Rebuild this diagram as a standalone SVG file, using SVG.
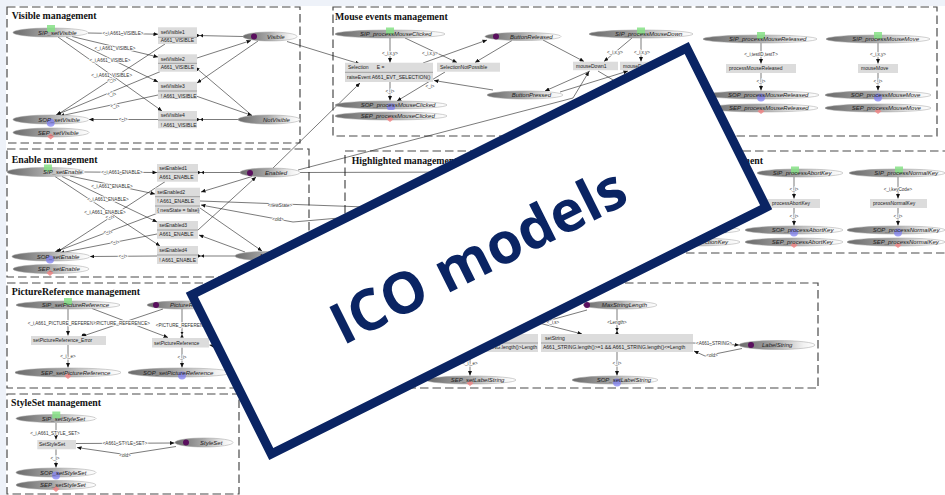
<svg xmlns="http://www.w3.org/2000/svg" width="945" height="495" viewBox="0 0 945 495">
<defs>
  <linearGradient id="pg" x1="0" y1="0" x2="1" y2="0">
    <stop offset="0" stop-color="#6a6a6a"/>
    <stop offset="0.45" stop-color="#a4a4a4"/>
    <stop offset="0.85" stop-color="#f2f2f2"/>
    <stop offset="1" stop-color="#ffffff"/>
  </linearGradient>
  <marker id="ah" markerWidth="5" markerHeight="4" refX="4.5" refY="2" orient="auto" markerUnits="userSpaceOnUse">
    <path d="M0,0 L4.5,2 L0,4 Z" fill="#111"/>
  </marker>
  <marker id="bt" markerWidth="6" markerHeight="4" refX="6" refY="2" orient="auto" markerUnits="userSpaceOnUse">
    <path d="M0,0.2 L3,2 L0,3.8 Z M6,0.2 L3,2 L6,3.8 Z" fill="#111"/>
  </marker>
  <style>
    .bx{fill:none;stroke:#4a4a4a;stroke-width:1.2;stroke-dasharray:8.5 4}
    .ti{font-family:"Liberation Serif","Times New Roman",serif;font-weight:bold;font-size:9.8px;fill:#111}
    .pl{fill:url(#pg);stroke:#a0a0a0;stroke-width:.5}
    .pn{font-family:"Liberation Sans",Arial,sans-serif;font-style:italic;font-size:6px;fill:#222}
    .tk{fill:#5a0f5e}
    .tr{fill:#dcdcdc}
    .sp{stroke:#777;stroke-width:.6}
    .tt{font-family:"Liberation Sans",Arial,sans-serif;font-size:5px;fill:#222}
    .lb{font-family:"Liberation Sans",Arial,sans-serif;font-size:4.6px;fill:#333;text-anchor:middle;stroke:#fff;stroke-width:1.6;paint-order:stroke;stroke-linejoin:round}
    .ar{fill:none;stroke:#222;stroke-width:.6;marker-end:url(#ah)}
    .bw{fill:none;stroke:#222;stroke-width:.6;marker-end:url(#bt)}
    .ln{fill:none;stroke:#222;stroke-width:.6}
    .gs{fill:#86e086;opacity:.85}
    .bs{fill:#7f7ff0;opacity:.75}
    .rs{fill:#f08484;opacity:.85}
  </style>
</defs>

<!-- page -->
<rect width="945" height="495" fill="#eef2f9"/>
<rect x="6" y="6" width="939" height="489" fill="#ffffff"/>

<!-- management frames -->
<g id="frames">
  <rect class="bx" x="7" y="7" width="293" height="136"/>
  <text class="ti" x="11.7" y="19">Visible management</text>
  <rect class="bx" x="333" y="7" width="604" height="129"/>
  <text class="ti" x="335" y="20">Mouse events management</text>
  <rect class="bx" x="7" y="149" width="302" height="128"/>
  <text class="ti" x="11.7" y="162.5">Enable management</text>
  <rect class="bx" x="345" y="151" width="300" height="100"/>
  <text class="ti" x="351.7" y="164">Highlighted management</text>
  <rect class="bx" x="655" y="151" width="300" height="102"/>
  <text class="ti" x="763" y="163.5" text-anchor="end">Keyboard management</text>
  <rect class="bx" x="7" y="283" width="313" height="105"/>
  <text class="ti" x="11.7" y="295">PictureReference management</text>
  <rect class="bx" x="325" y="283" width="493" height="105"/>
  <rect class="bx" x="7" y="394" width="232" height="100"/>
  <text class="ti" x="11" y="406">StyleSet management</text>
</g>

<!-- arcs and their inscriptions -->
<g id="connectors">
  <!-- visible -->
  <path class="ar" d="M88,33 L158,34.2"/>
  <path class="ar" d="M72,36.5 L158,57"/>
  <path class="ar" d="M66,37 L158,82"/>
  <path class="ar" d="M58,37 L162,111"/>
  <path class="ar" d="M165,44 L57,115"/>
  <path class="ar" d="M160,71.7 L56,115"/>
  <path class="ar" d="M158,95 L60,116"/>
  <path class="ar" d="M158,119.5 L89,119.5"/>
  <path class="bw" d="M243,36.5 L197,35.5"/>
  <path class="ar" d="M197,58 L251,40.5"/>
  <path class="ar" d="M258,41 L197,83"/>
  <path class="ar" d="M252,115.5 L195,67"/>
  <path class="ar" d="M196,96 L252,115.5"/>
  <path class="bw" d="M238,119.5 L197,119.5"/>
  <path class="ar" d="M287,41.5 L360,64"/>
  <path class="ar" d="M273,168 L360,83"/>
  <text class="lb" x="123" y="35">&lt;_i,A661_VISIBLE&gt;</text>
  <text class="lb" x="115" y="50">&lt;_i,A661_VISIBLE&gt;</text>
  <text class="lb" x="110" y="61.7">&lt;_i,A661_VISIBLE&gt;</text>
  <text class="lb" x="111.7" y="76.7">&lt;_i,A661_VISIBLE&gt;</text>
  <text class="lb" x="111.7" y="81.7">&lt;_i&gt;</text>
  <text class="lb" x="111.7" y="96">&lt;_i&gt;</text>
  <text class="lb" x="115" y="107.7">&lt;_i&gt;</text>
  <text class="lb" x="123.3" y="120.7">&lt;_i&gt;</text>

  <!-- enable -->
  <path class="ar" d="M85,172 L157,172.5"/>
  <path class="ar" d="M70,176 L155,194"/>
  <path class="ar" d="M62,176.5 L157,222"/>
  <path class="ar" d="M55,176.5 L160,246"/>
  <path class="ar" d="M165,181.7 L57,252"/>
  <path class="ar" d="M158,213 L55,252"/>
  <path class="ar" d="M157,234 L60,253"/>
  <path class="ar" d="M157,256 L90,256.5"/>
  <path class="bw" d="M240,172.5 L198,172.5"/>
  <path class="ar" d="M252,176.5 L201,192"/>
  <path class="ar" d="M198,230 L256,177"/>
  <path class="ar" d="M200,208 L262,251"/>
  <path class="ar" d="M245,252 L199,235"/>
  <path class="bw" d="M235,256 L198,256"/>
  <path class="ln" d="M200,201 L420,209"/>
  <path class="ar" d="M420,211 L293,222 L201,205"/>
  <path class="ln" d="M300,172.5 L470,172"/>
  <path class="ar" d="M298,170 L573,98 L589,71.5"/>
  <text class="lb" x="122" y="174">&lt;_i,A661_ENABLE&gt;</text>
  <text class="lb" x="112" y="187.7">&lt;_i,A661_ENABLE&gt;</text>
  <text class="lb" x="108" y="200.7">&lt;_i,A661_ENABLE&gt;</text>
  <text class="lb" x="105" y="213.7">&lt;_i,A661_ENABLE&gt;</text>
  <text class="lb" x="110" y="218.7">&lt;_i&gt;</text>
  <text class="lb" x="108" y="233.7">&lt;_i&gt;</text>
  <text class="lb" x="115" y="243.7">&lt;_i&gt;</text>
  <text class="lb" x="123" y="257.7">&lt;_i&gt;</text>
  <text class="lb" x="280" y="206.6">&lt;newState&gt;</text>
  <text class="lb" x="278" y="220.6">&lt;old&gt;</text>

  <!-- mouse events -->
  <path class="ar" d="M390,38 L390,62.5"/>
  <path class="ar" d="M405,38 L457,62.5"/>
  <path class="ar" d="M390,82 L390,100.5"/>
  <path class="ar" d="M445,72 L397,101"/>
  <path class="ar" d="M423,63 L487,40"/>
  <path class="ar" d="M512,40.5 L475,62.5"/>
  <path class="ar" d="M493,90 L434,80.5"/>
  <path class="ar" d="M543,40 L584,61.5"/>
  <path class="ar" d="M632,38 L604,61.5"/>
  <path class="ar" d="M641,38 L641,61.5"/>
  <path class="ar" d="M590,71 L545,91"/>
  <path class="ar" d="M560,92 L628,71"/>
  <path class="ln" d="M598,71 L640,96"/>
  <path class="ar" d="M761,43 L761,63.5"/>
  <path class="ar" d="M761,73 L761,90.5"/>
  <path class="ar" d="M878,43 L878,63.5"/>
  <path class="ar" d="M878,73 L878,90.5"/>
  <text class="lb" x="390" y="54.6">&lt;_i,x,y&gt;</text>
  <text class="lb" x="430" y="54.6">&lt;_i,x,y&gt;</text>
  <text class="lb" x="390" y="92.6">&lt;_i&gt;</text>
  <text class="lb" x="430" y="87.6">&lt;_i&gt;</text>
  <text class="lb" x="615" y="53.6">&lt;_i,x,y&gt;</text>
  <text class="lb" x="642" y="53.6">&lt;_i,x,y&gt;</text>
  <text class="lb" x="761" y="55.6">&lt;_i,testID,testT&gt;</text>
  <text class="lb" x="761" y="82.6">&lt;_i&gt;</text>
  <text class="lb" x="878" y="55.6">&lt;_i,x,y&gt;</text>
  <text class="lb" x="878" y="82.6">&lt;_i&gt;</text>

  <!-- keyboard -->
  <path class="ar" d="M794,177 L794,198.5"/>
  <path class="ar" d="M794,208 L794,225.5"/>
  <path class="ar" d="M898,177 L898,198.5"/>
  <path class="ar" d="M898,208 L898,225.5"/>
  <text class="lb" x="794" y="190.6">&lt;_i&gt;</text>
  <text class="lb" x="794" y="217.6">&lt;_i&gt;</text>
  <text class="lb" x="898" y="190.6">&lt;_i,keyCode&gt;</text>
  <text class="lb" x="898" y="217.6">&lt;_i&gt;</text>

  <!-- picture reference -->
  <path class="ar" d="M68,309 L68,335.5"/>
  <path class="ln" d="M163,309 L86,335"/>
  <circle cx="84" cy="335.7" r="2.3" fill="#111"/>
  <path class="ar" d="M92,308.5 L168,337.5"/>
  <path class="bw" d="M182,309 L182,337.5"/>
  <path class="ar" d="M68,345 L68,367.5"/>
  <path class="ar" d="M182,347.5 L182,367.5"/>
  <path class="ar" d="M235,350 L209.5,345"/>
  <text class="lb" x="65" y="324.6">&lt;_i,A661_PICTURE_REFERENCE&gt;</text>
  <text class="lb" x="121.7" y="324.6">&lt;PICTURE_REFERENCE&gt;</text>
  <text class="lb" x="184" y="326.6">&lt;PICTURE_REFERENCE&gt;</text>
  <text class="lb" x="68" y="357.6">&lt;_i,_e&gt;</text>
  <text class="lb" x="182" y="358.6">&lt;_i&gt;</text>

  <!-- label string -->
  <path class="ln" d="M587,310 L500,334"/>
  <path class="ar" d="M480,308 L582,334"/>
  <path class="bw" d="M617,309 L617,334"/>
  <path class="ar" d="M470,352 L470,375.5"/>
  <path class="ar" d="M617,352 L617,375.5"/>
  <path class="ar" d="M693,343 L739,345"/>
  <path class="ar" d="M742,348.5 L705,356 L694,351"/>
  <text class="lb" x="617" y="323.6">&lt;Length&gt;</text>
  <text class="lb" x="553" y="323.6">&lt;_i,s&gt;</text>
  <text class="lb" x="470" y="364.6">&lt;_i,_e&gt;</text>
  <text class="lb" x="617" y="364.6">&lt;_i&gt;</text>
  <text class="lb" x="714" y="344.6">&lt;A661_STRING&gt;</text>
  <text class="lb" x="712" y="356.6">&lt;old&gt;</text>

  <!-- style set -->
  <path class="ar" d="M56,423 L56,439.5"/>
  <path class="ar" d="M76,443.5 L174.5,443"/>
  <path class="ar" d="M176,446.5 L125,454.5 L77,447.5"/>
  <path class="ar" d="M56,449.3 L56,467.5"/>
  <text class="lb" x="55" y="434.6">&lt;_i,A661_STYLE_SET&gt;</text>
  <text class="lb" x="125" y="445">&lt;A661_STYLE_SET&gt;</text>
  <text class="lb" x="125" y="456.6">&lt;old&gt;</text>
  <text class="lb" x="55" y="459.6">&lt;_i&gt;</text>
</g>

<!-- Visible management -->
<g id="sip-setvisible"><ellipse class="pl" cx="50.5" cy="32.5" rx="37.5" ry="4.5"/><rect class="gs" x="47" y="25" width="8" height="7"/><text class="pn" x="38" y="34.5">SIP_setVisible</text></g>
<g id="sop-setvisible"><ellipse class="pl" cx="51" cy="119.5" rx="38" ry="4.5"/><circle class="bs" cx="50.7" cy="122.7" r="4"/><text class="pn" x="38.3" y="121.5">SOP_setVisible</text></g>
<g id="sep-setvisible"><ellipse class="pl" cx="51" cy="132.5" rx="38" ry="4.5"/><path class="rs" d="M50.7,133.5 L54.2,136.5 L50.7,139.5 L47.2,136.5 Z"/><text class="pn" x="37.7" y="134.5">SEP_setVisible</text></g>
<g id="p-visible"><ellipse class="pl" cx="270" cy="36.5" rx="27" ry="4.5"/><circle class="tk" cx="254" cy="36.5" r="3"/><text class="pn" x="267" y="38.5">Visible</text></g>
<g id="p-notvisible"><ellipse class="pl" cx="269" cy="119.5" rx="31" ry="4.5"/><text class="pn" x="263" y="121.5">NotVisible</text></g>
<g id="t-setvisible1"><rect class="tr" x="158" y="27.3" width="39" height="16.7"/><line class="sp" x1="158" y1="37.3" x2="197" y2="37.3"/><text class="tt" x="160.7" y="33.5">setVisible1</text><text class="tt" x="160.7" y="42.4">A661_VISIBLE</text></g>
<g id="t-setvisible2"><rect class="tr" x="158" y="54.3" width="39" height="17.4"/><line class="sp" x1="158" y1="63.3" x2="197" y2="63.3"/><text class="tt" x="160.7" y="60.6">setVisible2</text><text class="tt" x="160.7" y="69.4">A661_VISIBLE</text></g>
<g id="t-setvisible3"><rect class="tr" x="158" y="81.7" width="39" height="17.3"/><line class="sp" x1="158" y1="91" x2="197" y2="91"/><text class="tt" x="160.7" y="87.8">setVisible3</text><text class="tt" x="160.7" y="97.6">! A661_VISIBLE</text></g>
<g id="t-setvisible4"><rect class="tr" x="158" y="111" width="39" height="17.3"/><line class="sp" x1="158" y1="120" x2="197" y2="120"/><text class="tt" x="160.7" y="117.4">setVisible4</text><text class="tt" x="160.7" y="126.6">! A661_VISIBLE</text></g>

<!-- Enable management -->
<g id="sip-setenable"><ellipse class="pl" cx="46" cy="172" rx="39" ry="4.5"/><rect class="gs" x="44" y="164.5" width="8" height="7"/><text class="pn" x="43" y="174">SIP_setEnable</text></g>
<g id="sop-setenable"><ellipse class="pl" cx="51" cy="256.5" rx="39" ry="4.5"/><circle class="bs" cx="50" cy="259.5" r="4"/><text class="pn" x="36.7" y="258.5">SOP_setEnable</text></g>
<g id="sep-setenable"><ellipse class="pl" cx="51" cy="269" rx="38" ry="4.5"/><path class="rs" d="M50,270 L53.5,273 L50,276 L46.5,273 Z"/><text class="pn" x="37.7" y="271">SEP_setEnable</text></g>
<g id="p-enabled"><ellipse class="pl" cx="270" cy="172.5" rx="30" ry="4.5"/><circle class="tk" cx="250" cy="173" r="3"/><text class="pn" x="265" y="174.5">Enabled</text></g>
<g id="p-notenabled"><ellipse class="pl" cx="266" cy="256" rx="31" ry="4.5"/><text class="pn" x="260" y="258">NotEnabled</text></g>
<g id="t-setenabled1"><rect class="tr" x="157" y="164" width="41" height="17.7"/><line class="sp" x1="157" y1="172.3" x2="198" y2="172.3"/><text class="tt" x="159.3" y="170">setEnabled1</text><text class="tt" x="159.3" y="179">A661_ENABLE</text></g>
<g id="t-setenabled2"><rect class="tr" x="155" y="187.7" width="45" height="26.3"/><line class="sp" x1="155" y1="196.7" x2="200" y2="196.7"/><line class="sp" x1="155" y1="206" x2="200" y2="206"/><text class="tt" x="157.3" y="194">setEnabled2</text><text class="tt" x="157.3" y="202.7">! A661_ENABLE</text><text class="tt" x="157.3" y="211.7">{ newState = false}</text></g>
<g id="t-setenabled3"><rect class="tr" x="157" y="221" width="41" height="17.7"/><line class="sp" x1="157" y1="230" x2="198" y2="230"/><text class="tt" x="159.3" y="227.4">setEnabled3</text><text class="tt" x="159.3" y="236">A661_ENABLE</text></g>
<g id="t-setenabled4"><rect class="tr" x="157" y="246" width="41" height="18"/><line class="sp" x1="157" y1="255" x2="198" y2="255"/><text class="tt" x="159.3" y="252.4">setEnabled4</text><text class="tt" x="159.3" y="261.7">! A661_ENABLE</text></g>

<!-- Mouse events management -->
<g id="sip-processmouseclicked"><ellipse class="pl" cx="390" cy="34" rx="55" ry="4"/><rect class="gs" x="386" y="27.5" width="8" height="7"/><text class="pn" x="360" y="36">SIP_processMouseClicked</text></g>
<g id="sop-processmouseclicked"><ellipse class="pl" cx="391" cy="105" rx="56" ry="4"/><rect class="bs" x="387" y="103.5" width="8" height="6.5" rx="2"/><text class="pn" x="360.7" y="107">SOP_processMouseClicked</text></g>
<g id="sep-processmouseclicked"><ellipse class="pl" cx="391" cy="116" rx="56" ry="4"/><path class="rs" d="M390,116.5 L393.5,119.3 L390,122 L386.5,119.3 Z"/><text class="pn" x="360.7" y="118">SEP_processMouseClicked</text></g>
<g id="p-buttonreleased"><ellipse class="pl" cx="523" cy="36.5" rx="38" ry="4"/><circle class="tk" cx="496" cy="36.5" r="3"/><text class="pn" x="510" y="38.5">ButtonReleased</text></g>
<g id="p-buttonpressed"><ellipse class="pl" cx="525" cy="95" rx="38" ry="4"/><text class="pn" x="511.7" y="97">ButtonPressed</text></g>
<g id="t-selection"><rect class="tr" x="345" y="62.7" width="88" height="19.3"/><line class="sp" x1="345" y1="72.3" x2="433" y2="72.3"/><text class="tt" x="348" y="69.4">Selection</text><text class="tt" x="376.7" y="69.4">E =</text><text class="tt" x="347" y="79">raiseEvent A661_EVT_SELECTION()</text></g>
<g id="t-selectionnotpossible"><rect class="tr" x="437" y="62.7" width="63" height="9"/><text class="tt" x="440" y="69">SelectionNotPossible</text></g>
<g id="sip-processmousedown"><ellipse class="pl" cx="641" cy="34" rx="52" ry="4"/><rect class="gs" x="637" y="27.5" width="8" height="7"/><text class="pn" x="615" y="36">SIP_processMouseDown</text></g>
<g id="t-mousedown1"><rect class="tr" x="573" y="61.7" width="45" height="8.5"/><text class="tt" x="576" y="67.7">mouseDown1</text></g>
<g id="t-mousedown2"><rect class="tr" x="620" y="61.7" width="45" height="8.5"/><text class="tt" x="623" y="67.7">mouseDown2</text></g>
<g id="sip-processmousereleased"><ellipse class="pl" cx="760" cy="39" rx="57" ry="4"/><rect class="gs" x="757" y="32" width="8" height="7"/><text class="pn" x="729" y="41">SIP_processMouseReleased</text></g>
<g id="t-processmousereleased"><rect class="tr" x="726" y="64" width="70" height="9"/><text class="tt" x="729" y="70.2">processMouseReleased</text></g>
<g id="sop-processmousereleased"><ellipse class="pl" cx="762" cy="95" rx="57" ry="4"/><circle class="bs" cx="761" cy="97.5" r="4"/><text class="pn" x="728" y="97">SOP_processMouseReleased</text></g>
<g id="sep-processmousereleased"><ellipse class="pl" cx="762" cy="108" rx="56" ry="4"/><path class="rs" d="M761,108.5 L764.5,111.3 L761,114 L757.5,111.3 Z"/><text class="pn" x="729" y="110">SEP_processMouseReleased</text></g>
<g id="sip-processmousemove"><ellipse class="pl" cx="878" cy="39" rx="52" ry="4"/><rect class="gs" x="874" y="32" width="8" height="7"/><text class="pn" x="852.3" y="41">SIP_processMouseMove</text></g>
<g id="t-mousemove"><rect class="tr" x="858" y="64" width="40" height="9"/><text class="tt" x="861" y="70.2">mouseMove</text></g>
<g id="sop-processmousemove"><ellipse class="pl" cx="878" cy="95" rx="53" ry="4"/><circle class="bs" cx="878" cy="97.5" r="4"/><text class="pn" x="850.7" y="97">SOP_processMouseMove</text></g>
<g id="sep-processmousemove"><ellipse class="pl" cx="878" cy="108" rx="53" ry="4"/><path class="rs" d="M878,108.5 L881.5,111.3 L878,114 L874.5,111.3 Z"/><text class="pn" x="851.7" y="110">SEP_processMouseMove</text></g>

<!-- Keyboard management -->
<g id="sop-processselectionkey"><ellipse class="pl" cx="690" cy="230" rx="50" ry="4"/><text class="pn" x="728" y="232" text-anchor="end">SOP_processSelectionKey</text></g>
<g id="sep-processselectionkey"><ellipse class="pl" cx="690" cy="242" rx="50" ry="4"/><text class="pn" x="728" y="244" text-anchor="end">SEP_processSelectionKey</text></g>
<g id="sip-processabortkey"><ellipse class="pl" cx="800" cy="173" rx="43" ry="4"/><rect class="gs" x="791" y="166.5" width="8" height="7"/><text class="pn" x="772.7" y="175">SIP_processAbortKey</text></g>
<g id="t-processabortkey"><rect class="tr" x="766" y="199" width="54" height="9"/><text class="tt" x="772" y="205.2">processAbortKey</text></g>
<g id="sop-processabortkey"><ellipse class="pl" cx="794" cy="230" rx="49" ry="4"/><circle class="bs" cx="794" cy="232.5" r="4"/><text class="pn" x="771.7" y="232">SOP_processAbortKey</text></g>
<g id="sep-processabortkey"><ellipse class="pl" cx="794" cy="242" rx="49" ry="4"/><path class="rs" d="M794,242.5 L797.5,245.3 L794,248 L790.5,245.3 Z"/><text class="pn" x="771.7" y="244">SEP_processAbortKey</text></g>
<g id="sip-processnormalkey"><ellipse class="pl" cx="897" cy="173" rx="48" ry="4"/><rect class="gs" x="895" y="166.5" width="8" height="7"/><text class="pn" x="874.3" y="175">SIP_processNormalKey</text></g>
<g id="t-processnormalkey"><rect class="tr" x="870" y="199" width="57" height="9"/><text class="tt" x="873" y="205.2">processNormalKey</text></g>
<g id="sop-processnormalkey"><ellipse class="pl" cx="896" cy="230" rx="49" ry="4"/><circle class="bs" cx="898" cy="232.5" r="4"/><text class="pn" x="872.7" y="232">SOP_processNormalKey</text></g>
<g id="sep-processnormalkey"><ellipse class="pl" cx="896" cy="242" rx="49" ry="4"/><path class="rs" d="M898,242.5 L901.5,245.3 L898,248 L894.5,245.3 Z"/><text class="pn" x="872.7" y="244">SEP_processNormalKey</text></g>

<!-- PictureReference management -->
<g id="sip-setpicturereference"><ellipse class="pl" cx="68" cy="305" rx="52" ry="4"/><rect class="gs" x="64" y="298" width="8" height="7"/><text class="pn" x="41.7" y="307">SIP_setPictureReference</text></g>
<g id="p-picturereference"><ellipse class="pl" cx="182" cy="305" rx="35" ry="4"/><circle class="tk" cx="156" cy="305" r="3"/><text class="pn" x="170" y="307">PictureReference</text></g>
<g id="t-setpicturereference-error"><rect class="tr" x="31" y="336" width="75" height="9"/><text class="tt" x="33" y="342.3">setPictureReference_Error</text></g>
<g id="t-setpicturereference"><rect class="tr" x="152" y="338" width="57" height="9.5"/><text class="tt" x="154" y="344.5">setPictureReference</text></g>
<g id="sep-setpicturereference"><ellipse class="pl" cx="68" cy="372.5" rx="53" ry="4.5"/><path class="rs" d="M68,373 L71.5,376 L68,379 L64.5,376 Z"/><text class="pn" x="40.7" y="374.5">SEP_setPictureReference</text></g>
<g id="sop-setpicturereference"><ellipse class="pl" cx="180" cy="372.5" rx="52" ry="4.5"/><circle class="bs" cx="182" cy="375.5" r="4"/><text class="pn" x="143" y="374.5">SOP_setPictureReference</text></g>

<!-- LabelString management -->
<g id="p-maxstringlength"><ellipse class="pl" cx="620" cy="305" rx="37" ry="4"/><circle class="tk" cx="587" cy="305" r="3"/><text class="pn" x="601.7" y="307">MaxStringLength</text></g>
<g id="t-setstringerror"><rect class="tr" x="420" y="334" width="118" height="18"/><line class="sp" x1="420" y1="343" x2="538" y2="343"/><text class="tt" x="537" y="349" text-anchor="end">A661_STRING.length()&lt;1 || A661_STRING.length()&gt;Length</text></g>
<g id="t-setstring"><rect class="tr" x="541" y="334" width="152" height="18"/><line class="sp" x1="541" y1="343" x2="693" y2="343"/><text class="tt" x="545" y="340.3">setString</text><text class="tt" x="543" y="349.3">A661_STRING.length()&gt;=1 &amp;&amp; A661_STRING.length()&lt;=Length</text></g>
<g id="p-labelstring"><ellipse class="pl" cx="777" cy="345" rx="38" ry="4.5"/><circle class="tk" cx="751" cy="345" r="3"/><text class="pn" x="762" y="347">LabelString</text></g>
<g id="sep-setlabelstring"><ellipse class="pl" cx="471" cy="380" rx="45" ry="4"/><path class="rs" d="M470,380.5 L473.5,383.3 L470,386 L466.5,383.3 Z"/><text class="pn" x="450.7" y="382">SEP_setLabelString</text></g>
<g id="sop-setlabelstring"><ellipse class="pl" cx="615" cy="380" rx="43" ry="4"/><circle class="bs" cx="617" cy="382.5" r="4"/><text class="pn" x="596.7" y="382">SOP_setLabelString</text></g>

<!-- StyleSet management -->
<g id="sip-setstyleset"><ellipse class="pl" cx="56" cy="418.5" rx="40" ry="4"/><rect class="gs" x="52.3" y="411.5" width="8" height="7"/><text class="pn" x="41.7" y="420.5">SIP_setStyleSet</text></g>
<g id="t-setstyleset"><rect class="tr" x="37.3" y="440" width="38.7" height="9.3"/><text class="tt" x="39" y="446.3">SetStyleSet</text></g>
<g id="p-styleset"><ellipse class="pl" cx="204" cy="442.5" rx="29" ry="4.5"/><circle class="tk" cx="186" cy="442.5" r="3"/><text class="pn" x="200" y="444.5">StyleSet</text></g>
<g id="sop-setstyleset"><ellipse class="pl" cx="56" cy="472.5" rx="40" ry="4.5"/><circle class="bs" cx="56" cy="475.5" r="4"/><text class="pn" x="40" y="474.5">SOP_setStyleSet</text></g>
<g id="sep-setstyleset"><ellipse class="pl" cx="56" cy="485" rx="40" ry="4.5"/><path class="rs" d="M56,486 L59.5,489 L56,492 L52.5,489 Z"/><text class="pn" x="40" y="487">SEP_setStyleSet</text></g>

<!-- caption panel -->
<g id="caption" transform="translate(479,251) rotate(-26.5)">
  <rect x="-276.5" y="-89" width="553" height="178" fill="#ffffff" stroke="#0a2463" stroke-width="9"/>
  <text x="-3" y="24" text-anchor="middle" font-family="'Open Sans',Lato,sans-serif" font-weight="bold" font-size="57" fill="#0a2463" textLength="322" lengthAdjust="spacingAndGlyphs">ICO models</text>
</g>
</svg>
